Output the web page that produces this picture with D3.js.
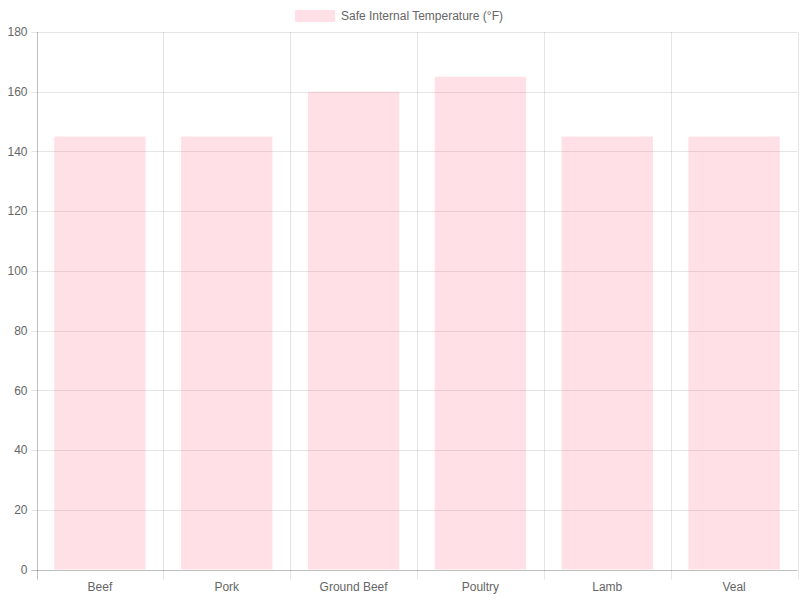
<!DOCTYPE html>
<html><head><meta charset="utf-8">
<script src="https://cdn.jsdelivr.net/npm/d3@7"></script>
<style>body{margin:0;background:#fff}</style></head>
<body><svg id="c" width="800" height="600"></svg>
<script>
const categories=["Beef","Pork","Ground Beef","Poultry","Lamb","Veal"];
const values=[145,145,160,165,145,145];
const yTicks=[0,20,40,60,80,100,120,140,160,180];
const seriesName="Safe Internal Temperature (°F)";
const svg=d3.select("#c");
const L=36.5,R=797.5,T=32,B=569.5;
const x=d3.scaleBand().domain(categories).range([L,R]);
const y=d3.scaleLinear().domain([0,180]).range([B,T]);
const font="Helvetica, Arial, 'Liberation Sans', sans-serif";
const g=svg.append("g");
yTicks.forEach(t=>{
  g.append("line").attr("x1",L-5).attr("x2",R).attr("y1",Math.round(y(t))+0.5).attr("y2",Math.round(y(t))+0.5)
   .attr("stroke",t===0?"rgba(0,0,0,0.25)":"rgba(0,0,0,0.1)");
  g.append("text").attr("x",L-9).attr("y",y(t)).attr("dy","0.35em").attr("text-anchor","end")
   .attr("font-family",font).attr("font-size",12).attr("fill","#666").text(t);
});
const edges=categories.map(c=>x(c)).concat([R]);
edges.forEach((e,i)=>{
  g.append("line").attr("x1",Math.round(e)+0.5).attr("x2",Math.round(e)+0.5).attr("y1",T).attr("y2",B+10)
   .attr("stroke",i===0?"rgba(0,0,0,0.25)":"rgba(0,0,0,0.1)");
});
const bw=x.bandwidth()*0.72;
g.selectAll("rect.bar").data(values).enter().append("rect")
 .attr("x",(d,i)=>x(categories[i])+(x.bandwidth()-bw)/2).attr("width",bw)
 .attr("y",d=>y(d)).attr("height",d=>B-y(d)).attr("fill","rgba(255,99,132,0.2)");
categories.forEach(c=>{
  g.append("text").attr("x",x(c)+x.bandwidth()/2).attr("y",591).attr("text-anchor","middle")
   .attr("font-family",font).attr("font-size",12).attr("fill","#666").text(c);
});
g.append("rect").attr("x",295).attr("y",10).attr("width",40).attr("height",12).attr("fill","rgba(255,99,132,0.2)");
g.append("text").attr("x",341).attr("y",20).attr("font-family",font).attr("font-size",12).attr("fill","#666").text(seriesName);
</script></body></html>
